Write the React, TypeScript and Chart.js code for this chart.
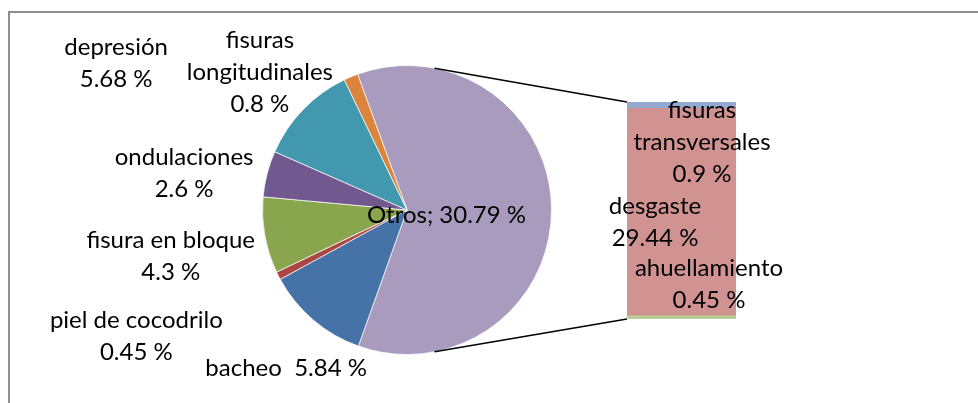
import React, { useEffect, useRef } from "react";
import { Chart, registerables } from "chart.js";

Chart.register(...registerables);

// ---- Data ----
const pieCategories = [
  "Otros",
  "bacheo",
  "piel de cocodrilo",
  "fisura en bloque",
  "ondulaciones",
  "depresión",
  "fisuras longitudinales",
];
const pieValues = [30.79, 5.84, 0.45, 4.3, 2.6, 5.68, 0.8];
const pieLabelNames = [
  ["Otros"],
  ["bacheo"],
  ["piel de cocodrilo"],
  ["fisura en bloque"],
  ["ondulaciones"],
  ["depresión"],
  ["fisuras", "longitudinales"],
];

const barCategories = ["ahuellamiento", "desgaste", "fisuras transversales"];
const barValues = [0.45, 29.44, 0.9];
const barLabelNames = [["ahuellamiento"], ["desgaste"], ["fisuras", "transversales"]];

// ---- Styles ----
const pieColors = ["#A99BBD", "#4572A7", "#AA4643", "#89A54E", "#71588F", "#4198AF", "#DB843D"];
const barColors = ["#B9CD96", "#D19392", "#93A9CF"];
// label style: "semi" = name; value, "inline" = name  value, "stack" = lines
const pieLabelMode = ["semi", "inline", "stack", "stack", "stack", "stack", "stack"];
// label offsets relative to the slice's outer mid-point
const pieLabelOffsets = [
  [-105, 6],
  [-27, 48],
  [-142, 61],
  [-94, 21],
  [-83, -1],
  [-187, -46],
  [-91, -5],
];
// label offsets relative to the bar segment centre
const barLabelOffsets = [
  [27.5, -33],
  [-26.5, 10],
  [20.5, 37],
];

const FONT_SIZE = 24;
const FONT = `${FONT_SIZE}px Lato, "Open Sans", sans-serif`;
const LINE_H = 32;
const CONNECTOR_DEG = 11;

const W = 978;
const H = 403;

function drawLines(ctx: CanvasRenderingContext2D, lines: string[], cx: number, cy: number) {
  ctx.save();
  ctx.font = FONT;
  ctx.fillStyle = "#000";
  ctx.textAlign = "center";
  ctx.textBaseline = "middle";
  const n = lines.length;
  lines.forEach((t, i) => {
    ctx.fillText(t, cx, cy + (i - (n - 1) / 2) * LINE_H);
  });
  ctx.restore();
}

export default function App() {
  const pieRef = useRef<HTMLCanvasElement>(null);
  const barRef = useRef<HTMLCanvasElement>(null);

  useEffect(() => {
    if (!pieRef.current || !barRef.current) return;

    const barChart = new Chart(barRef.current, {
      type: "bar",
      data: {
        labels: ["Otros"],
        datasets: barCategories.map((c, i) => ({
          label: c,
          data: [barValues[i]],
          backgroundColor: barColors[i],
          borderWidth: 0,
          barPercentage: 1,
          categoryPercentage: 1,
        })),
      },
      options: {
        responsive: false,
        animation: false,
        devicePixelRatio: 1,
        layout: { padding: { left: 627, top: 102, right: W - 736, bottom: H - 319 } },
        plugins: { legend: { display: false }, tooltip: { enabled: false } },
        scales: {
          x: { display: false, stacked: true },
          y: {
            display: false,
            stacked: true,
            min: 0,
            max: barValues.reduce((a, b) => a + b, 0),
          },
        },
      },
    });

    const overlay = {
      id: "pieOfBar",
      afterDatasetsDraw(chart: any) {
        const ctx: CanvasRenderingContext2D = chart.ctx;
        const meta = chart.getDatasetMeta(0);
        const arc0 = meta.data[0] as any;
        const cx = arc0.x;
        const cy = arc0.y;
        const r = arc0.outerRadius;

        // connector lines
        const a = (CONNECTOR_DEG * Math.PI) / 180;
        const topPt = [cx + r * Math.sin(a), cy - r * Math.cos(a)];
        const botPt = [cx + r * Math.sin(a), cy + r * Math.cos(a)];
        const bars = barCategories.map((_, i) => barChart.getDatasetMeta(i).data[0] as any);
        const topBar = bars[bars.length - 1];
        const botBar = bars[0];
        const barLeft = topBar.x - topBar.width / 2;
        ctx.save();
        ctx.strokeStyle = "#000";
        ctx.lineWidth = 1.5;
        ctx.beginPath();
        ctx.moveTo(topPt[0], topPt[1]);
        ctx.lineTo(barLeft, topBar.y);
        ctx.moveTo(botPt[0], botPt[1]);
        ctx.lineTo(barLeft, botBar.base);
        ctx.stroke();
        ctx.restore();

        // pie labels
        meta.data.forEach((el: any, i: number) => {
          const mid = (el.startAngle + el.endAngle) / 2;
          const px = el.x + Math.cos(mid) * el.outerRadius;
          const py = el.y + Math.sin(mid) * el.outerRadius;
          const [dx, dy] = pieLabelOffsets[i];
          const val = `${pieValues[i]} %`;
          let lines: string[];
          if (pieLabelMode[i] === "semi") lines = [`${pieLabelNames[i].join(" ")}; ${val}`];
          else if (pieLabelMode[i] === "inline") lines = [`${pieLabelNames[i].join(" ")}  ${val}`];
          else lines = [...pieLabelNames[i], val];
          drawLines(ctx, lines, px + dx, py + dy);
        });

        // bar labels
        bars.forEach((el: any, i: number) => {
          const mx = el.x;
          const my = (el.y + el.base) / 2;
          const [dx, dy] = barLabelOffsets[i];
          drawLines(ctx, [...barLabelNames[i], `${barValues[i]} %`], mx + dx, my + dy);
        });
      },
    };

    const pieChart = new Chart(pieRef.current, {
      type: "pie",
      data: {
        labels: pieCategories,
        datasets: [
          {
            data: pieValues,
            backgroundColor: pieColors,
            borderColor: "rgba(255,255,255,0.7)",
            borderWidth: 1,
          },
        ],
      },
      options: {
        responsive: false,
        animation: false,
        devicePixelRatio: 1,
        rotation: -20,
        layout: { padding: { left: 262, right: W - 552, top: 65, bottom: H - 355 } },
        plugins: { legend: { display: false }, tooltip: { enabled: false } },
      },
      plugins: [overlay],
    });

    return () => {
      pieChart.destroy();
      barChart.destroy();
    };
  }, []);

  return (
    <div
      style={{
        position: "absolute",
        left: 0,
        top: 0,
        width: W,
        height: H,
        overflow: "hidden",
        background: "#fff",
      }}
    >
      <div
        style={{
          position: "absolute",
          left: 8,
          top: 11,
          width: 1100,
          height: 600,
          border: "2px solid #8f8f8f",
          boxSizing: "border-box",
        }}
      />
      <canvas ref={barRef} width={W} height={H} style={{ position: "absolute", left: 0, top: 0 }} />
      <canvas ref={pieRef} width={W} height={H} style={{ position: "absolute", left: 0, top: 0 }} />
    </div>
  );
}
